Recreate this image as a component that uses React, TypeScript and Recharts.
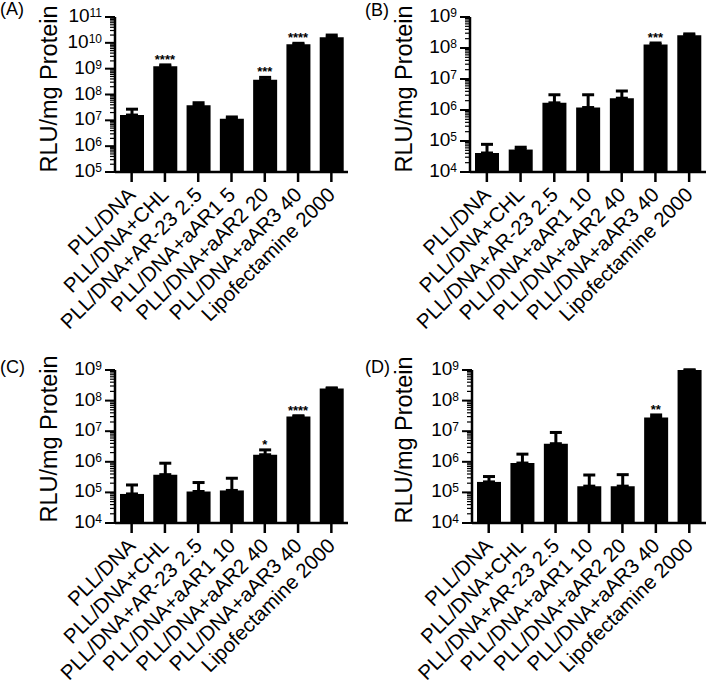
import React from 'react'
import { ComposedChart, Bar, ErrorBar, Scatter, XAxis, YAxis } from 'recharts'

const FONT = '"Liberation Sans", Arial, Helvetica, sans-serif'

// panel A
const labelsA = ['PLL/DNA', 'PLL/DNA+CHL', 'PLL/DNA+AR-23 2.5', 'PLL/DNA+aAR1 5', 'PLL/DNA+aAR2 20', 'PLL/DNA+aAR3 40', 'Lipofectamine 2000']
const meanA = [1.6e7, 1.25e9, 3.8e7, 1.15e7, 3.7e8, 8.8e9, 1.65e10]
const upperA = [2.7e7, 1.4e9, 4.8e7, 1.35e7, 4.6e8, 9.6e9, 2.0e10]
const sigA = ['', '****', '', '', '***', '****', '']

// panel B
const labelsB = ['PLL/DNA', 'PLL/DNA+CHL', 'PLL/DNA+AR-23 2.5', 'PLL/DNA+aAR1 10', 'PLL/DNA+aAR2 40', 'PLL/DNA+aAR3 40', 'Lipofectamine 2000']
const meanB = [4.1e4, 5.3e4, 1.7e6, 1.2e6, 2.4e6, 1.3e8, 2.6e8]
const upperB = [7.8e4, 6.3e4, 3.1e6, 3.1e6, 4.1e6, 1.45e8, 2.85e8]
const sigB = ['', '', '', '', '', '***', '']

// panel C
const labelsC = ['PLL/DNA', 'PLL/DNA+CHL', 'PLL/DNA+AR-23 2.5', 'PLL/DNA+aAR1 10', 'PLL/DNA+aAR2 40', 'PLL/DNA+aAR3 40', 'Lipofectamine 2000']
const meanC = [8.9e4, 3.8e5, 1.07e5, 1.16e5, 1.7e6, 3.0e7, 2.5e8]
const upperC = [1.75e5, 9.0e5, 2.1e5, 2.9e5, 2.45e6, 3.2e7, 2.6e8]
const sigC = ['', '', '', '', '*', '****', '']

// panel D
const labelsD = ['PLL/DNA', 'PLL/DNA+CHL', 'PLL/DNA+AR-23 2.5', 'PLL/DNA+aAR1 10', 'PLL/DNA+aAR2 20', 'PLL/DNA+aAR3 40', 'Lipofectamine 2000']
const meanD = [2.2e5, 9.1e5, 3.9e6, 1.6e5, 1.6e5, 2.8e7, 1.0e9]
const upperD = [3.3e5, 1.78e6, 9.1e6, 3.7e5, 3.8e5, 3.4e7, null]
const sigD = ['', '', '', '', '', '**', '']

const buildData = (labels: string[], means: number[], uppers: (number | null)[], sigs: string[]) =>
  labels.map((name, i) => ({
    name,
    mean: means[i],
    err: [0, uppers[i] != null ? (uppers[i] as number) - means[i] : 0],
    starAt: sigs[i] ? uppers[i] ?? means[i] : null,
    sig: sigs[i],
  }))

// decades plus 2..9 minor ticks
const logTicks = (lo: number, hi: number) => {
  const out: number[] = []
  for (let k = lo; k <= hi; k++) {
    out.push(10 ** k)
    if (k < hi) for (let j = 2; j <= 9; j++) out.push(j * 10 ** k)
  }
  return out
}

const YTick = (props: any) => {
  const { x, y, payload } = props
  const v = payload.value
  const e = Math.round(Math.log10(v))
  const major = Math.abs(v - 10 ** e) < 1e-6 * v
  return (
    <g>
      <line x1={x - (major ? 10 : 5)} x2={x} y1={y} y2={y} stroke="#000" strokeWidth={major ? 2 : 1.2} />
      {major && (
        <text x={x - 13} y={y + 5} textAnchor="end" fontSize={19} fontFamily={FONT} fill="#000">
          10<tspan fontSize={12} dy={-5}>{e}</tspan>
        </text>
      )}
    </g>
  )
}

const XTick = (props: any) => {
  const { x, y, payload } = props
  const ax = x + 5
  const ay = y + 24
  return (
    <g>
      <line x1={x} x2={x} y1={y} y2={y + 10} stroke="#000" strokeWidth={2.5} />
      <text x={ax} y={ay} transform={`rotate(-45 ${ax} ${ay})`} textAnchor="end" fontSize={20.5} fontFamily={FONT} fill="#000">
        {payload.value}
      </text>
    </g>
  )
}

const StarShape = (props: any) => {
  const { cx, cy, payload } = props
  if (!payload || !payload.sig || !Number.isFinite(cy)) return <g />
  return (
    <text x={cx} y={cy - 1} textAnchor="middle" fontSize={13} fontWeight="bold" fontFamily={FONT} fill="#000">
      {payload.sig}
    </text>
  )
}

interface PanelProps {
  left: number
  top: number
  width: number
  height: number
  data: any[]
  lo: number
  hi: number
  margin: { top: number; right: number; bottom: number; left: number }
  yAxisWidth: number
  xAxisHeight: number
  titleY: number
}

function Panel({ left, top, width, height, data, lo, hi, margin, yAxisWidth, xAxisHeight, titleY }: PanelProps) {
  return (
    <div style={{ position: 'absolute', left, top, width, height }}>
      <ComposedChart width={width} height={height} data={data} margin={margin} barSize={24}>
        <XAxis
          dataKey="name"
          interval={0}
          height={xAxisHeight}
          tickSize={0}
          tickMargin={0}
          tickLine={false}
          axisLine={{ stroke: '#000', strokeWidth: 2.5 }}
          tick={<XTick />}
        />
        <YAxis
          scale="log"
          domain={[10 ** lo, 10 ** hi]}
          allowDataOverflow
          ticks={logTicks(lo, hi)}
          interval={0}
          width={yAxisWidth}
          tickSize={0}
          tickMargin={0}
          tickLine={false}
          axisLine={{ stroke: '#000', strokeWidth: 2.5 }}
          tick={<YTick />}
          label={{
            content: () => (
              <text
                x={57}
                y={titleY}
                transform={`rotate(-90 57 ${titleY})`}
                textAnchor="middle"
                fontSize={23.5}
                fontFamily={FONT}
                fill="#000"
              >
                RLU/mg Protein
              </text>
            ),
          }}
        />
        <Bar dataKey="mean" fill="#000" isAnimationActive={false}>
          <ErrorBar dataKey="err" width={6} strokeWidth={3} stroke="#000" direction="y" isAnimationActive={false} />
        </Bar>
        <Scatter dataKey="starAt" shape={<StarShape />} isAnimationActive={false} />
      </ComposedChart>
    </div>
  )
}

export default function App() {
  const dataA = buildData(labelsA, meanA, upperA, sigA)
  const dataB = buildData(labelsB, meanB, upperB, sigB)
  const dataC = buildData(labelsC, meanC, upperC, sigC)
  const dataD = buildData(labelsD, meanD, upperD, sigD)

  return (
    <div style={{ position: 'absolute', left: 0, top: 0, width: 709, height: 687, background: '#fff', fontFamily: FONT }}>
      <Panel left={0} top={0} width={354} height={345} data={dataA} lo={5} hi={11}
        margin={{ top: 17, right: 6, bottom: 13, left: 5 }} yAxisWidth={110} xAxisHeight={160} titleY={89} />
      <Panel left={355} top={0} width={354} height={345} data={dataB} lo={4} hi={9}
        margin={{ top: 17, right: 3, bottom: 13, left: 5 }} yAxisWidth={110} xAxisHeight={160} titleY={89} />
      <Panel left={0} top={345} width={354} height={342} data={dataC} lo={4} hi={9}
        margin={{ top: 25, right: 6, bottom: 9, left: 5 }} yAxisWidth={110} xAxisHeight={155} titleY={94} />
      <Panel left={355} top={345} width={354} height={342} data={dataD} lo={4} hi={9}
        margin={{ top: 25, right: 3, bottom: 9, left: 7 }} yAxisWidth={110} xAxisHeight={155} titleY={95} />
      <svg width={709} height={687} style={{ position: 'absolute', left: 0, top: 0, pointerEvents: 'none' }}>
        <text x={0} y={15} fontSize={18} fontFamily={FONT} fill="#000">(A)</text>
        <text x={365} y={16} fontSize={18} fontFamily={FONT} fill="#000">(B)</text>
        <text x={0} y={373} fontSize={18} fontFamily={FONT} fill="#000">(C)</text>
        <text x={365} y={373} fontSize={18} fontFamily={FONT} fill="#000">(D)</text>
      </svg>
    </div>
  )
}
